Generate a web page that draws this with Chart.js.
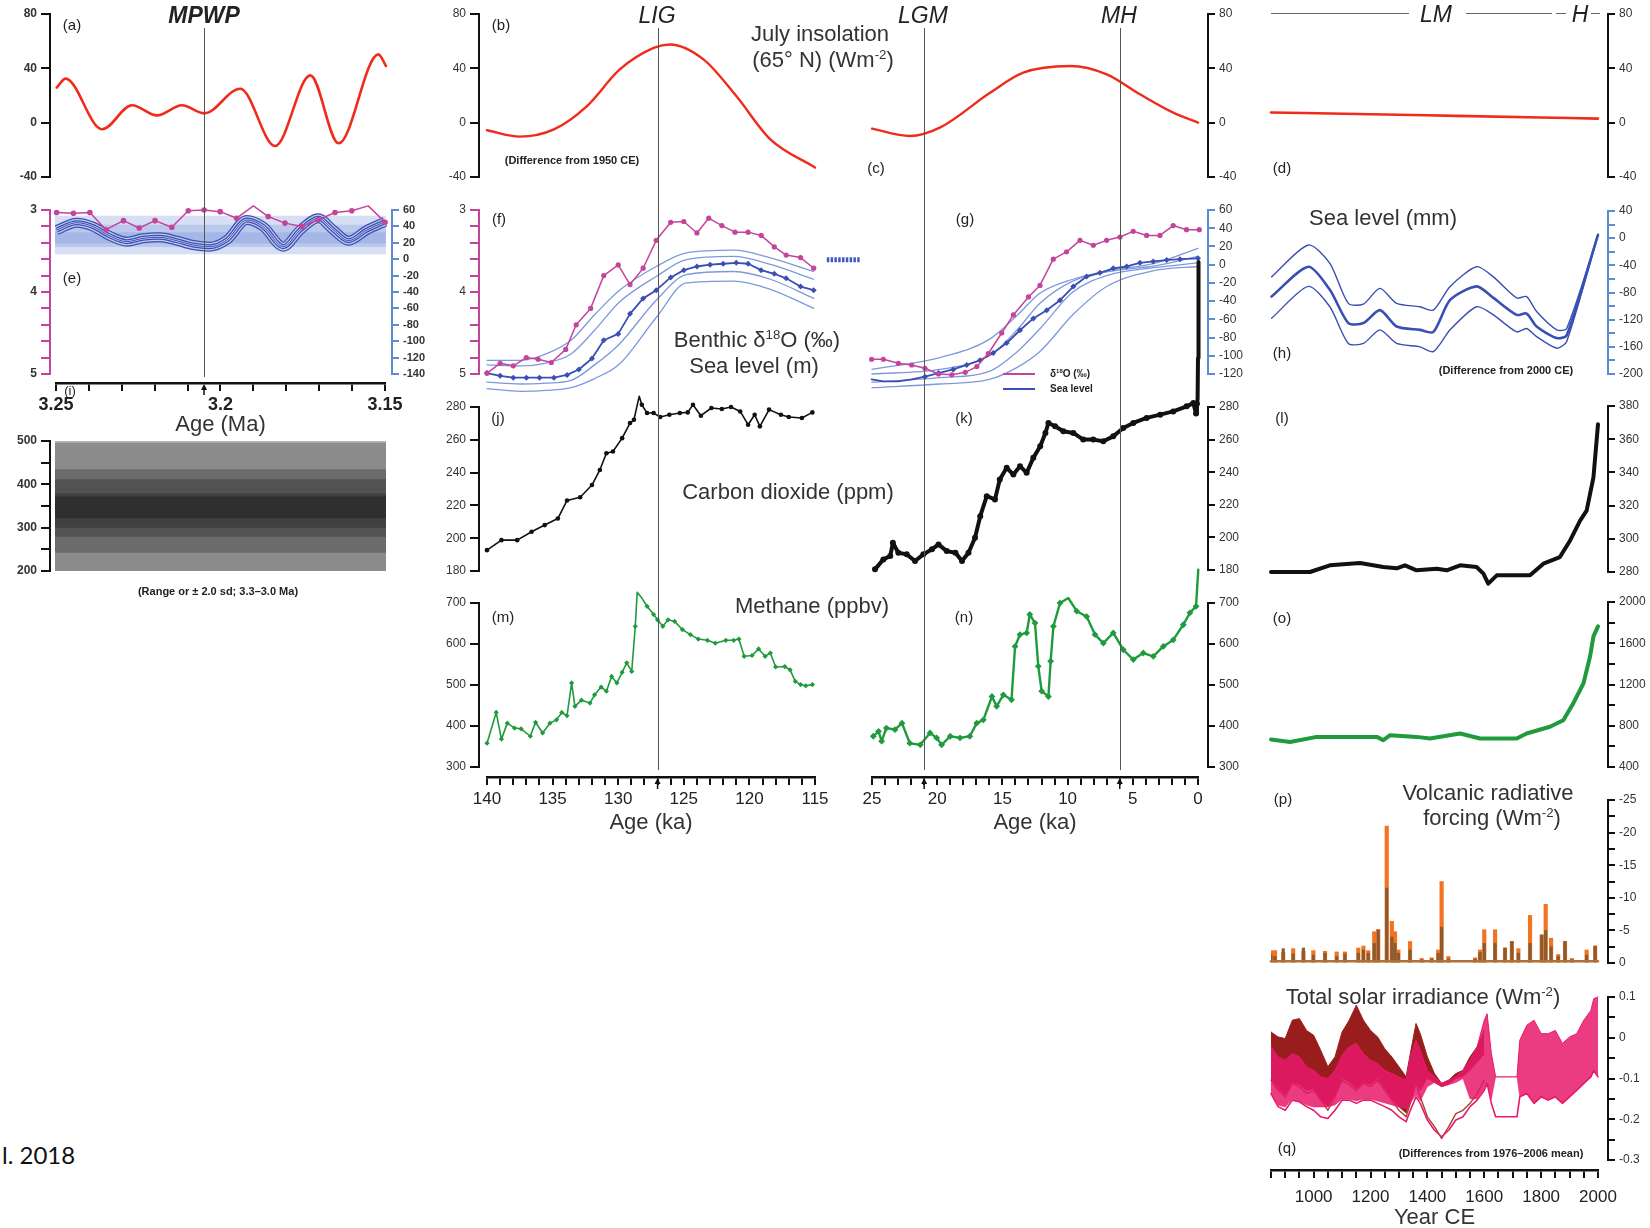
<!DOCTYPE html>
<html>
<head>
<meta charset="utf-8">
<title>Climate forcing time series</title>
<script src="https://cdn.jsdelivr.net/npm/chart.js@4.4.1/dist/chart.umd.min.js"></script>
<style>
  html, body { margin: 0; padding: 0; background: #fff; }
  #stage { position: relative; width: 1650px; height: 1228px; overflow: hidden;
           font-family: "Liberation Sans", Arial, sans-serif; color: #222; }
  #stage canvas { position: absolute; }
  .t { position: absolute; white-space: nowrap; transform: translate(-50%, -50%); line-height: 1; }
  .hdr { font-size: 23px; font-style: italic; color: #222; }
  .sub { font-size: 15px; color: #222; }
  .ttl { font-size: 22px; color: #333; }
  .note { font-size: 11px; font-weight: bold; color: #222; }
  .vline { position: absolute; width: 1px; background: #555; }
  .hline { position: absolute; height: 1px; background: #666; }
  sup { font-size: 0.6em; vertical-align: 0.6em; line-height: 0; }
</style>
</head>
<body>
<div id="stage"></div>
<script>
// ---------- data ----------
// (a) July insolation 65N, mid-Pliocene (Ma, W m-2)
const mpwpAge = [3.2498, 3.2471, 3.236, 3.2269, 3.2193, 3.2117, 3.2049, 3.194, 3.1834, 3.1727, 3.1641, 3.152, 3.1497];
const mpwpInsol = [25.8, 32.4, -4.9, 12.8, 5.4, 12.8, 6.9, 25, -17.2, 34.8, -15.2, 50.3, 41.7];
// (b) LIG insolation (ka)
const ligAge = [140, 137.5, 134.9, 132.4, 129.9, 127.3, 126.05, 123.5, 121, 118.4, 115];
const ligInsol = [-5.6, -10.3, -5, 12, 39, 55, 57.6, 46.6, 19.6, -12.3, -33];
// (c) deglacial insolation (ka)
const lgmAge = [25, 22.1, 19.8, 15.95, 13.4, 9.8, 7.0, 4.45, 1.9, 0];
const lgmInsol = [-4.4, -9.8, -3.7, 22, 36.8, 41.7, 35.6, 20.9, 7.4, 0];
// (d) last millennium insolation (year CE)
const lmYear = [850, 1200, 1500, 1800, 2000];
const lmInsol = [7.5, 6.2, 5, 3.8, 3];

// (e) Pliocene benthic d18O and sea level
const eD18Age = [3.2498, 3.2447, 3.2397, 3.2348, 3.2295, 3.2247, 3.2199, 3.2148, 3.2098, 3.205, 3.2001, 3.1951, 3.19, 3.1855, 3.1804, 3.1753, 3.1703, 3.1652, 3.1601, 3.1551, 3.15];
const eD18 = [3.03, 3.04, 3.03, 3.24, 3.13, 3.22, 3.13, 3.21, 3.01, 3.0, 3.02, 3.10, 2.95, 3.08, 3.16, 3.2, 3.12, 3.03, 3.01, 2.95, 3.15];
const eSeaAge = [3.2498, 3.2437, 3.2387, 3.2336, 3.2285, 3.2235, 3.2184, 3.2133, 3.2083, 3.2032, 3.1981, 3.192, 3.187, 3.1809, 3.1758, 3.1702, 3.1657, 3.1611, 3.1555, 3.15];
const eSea = [35.6, 44.5, 39.7, 28.3, 21.4, 25.5, 26.7, 22.6, 17.3, 15.3, 23.4, 47.8, 39.7, 15.3, 35.6, 49.8, 35.6, 22.6, 35.6, 45.7];
const eBandX = [3.2503, 3.1497];
const eBandLo = [6, 15, 19];
const eBandHi = [53, 42, 33];

// (f) LIG benthic d18O and sea level
const fD18Age = [140, 139, 138, 137, 136.1, 135.1, 134, 133.2, 132.1, 131.1, 130, 129.1, 128.1, 127.1, 126, 125, 124, 123.1, 122.1, 121.1, 120.1, 119.1, 118.1, 117.2, 116.1, 115.1];
const fD18 = [4.99, 4.87, 4.9, 4.8, 4.82, 4.86, 4.7, 4.4, 4.2, 3.8, 3.67, 3.91, 3.71, 3.37, 3.15, 3.14, 3.28, 3.1, 3.19, 3.27, 3.27, 3.31, 3.45, 3.55, 3.58, 3.71];
const fSeaAge = [140, 139, 138, 137, 136, 134.9, 133.9, 133.0, 132.0, 131.1, 130.0, 129.1, 128.1, 127.1, 126.0, 125.0, 124.0, 123.0, 122.0, 121.0, 120.1, 119.1, 118.1, 117.2, 116.1, 115.1];
const fSea = [-119, -122, -124, -124, -124, -124, -121, -115, -103, -83, -76, -54, -37, -28, -14, -6, -2, 0, 1, 2, 1, -6, -10, -15, -24, -28];
const fEnvAge = [140, 137.4, 135.5, 133.6, 131.8, 129.9, 127.1, 124.8, 121.2, 118.4, 115.1];
const fUp2 = [-105, -105, -98, -83, -55, -28, -2, 13, 16, 7.5, -7.5];
const fUp1 = [-110, -111, -108, -98, -72, -41, -13, 5.5, 9, 0.3, -16];
const fLo1 = [-129, -131, -130, -127, -110, -87, -39, -11, -7.5, -16, -37];
const fLo2 = [-136, -139, -138, -135, -125, -109, -58, -20, -18, -27, -48];
const ligSeaAge = [114.1, 111.6];
const ligSeaLevel = [5.5, 5.5];

// (g) deglacial benthic d18O and sea level
const gD18Age = [25.03, 24.13, 22.98, 21.96, 20.94, 19.9, 18.88, 17.85, 16.96, 16.08, 15.05, 14.16, 13.0, 12.12, 11.1, 10.08, 9.05, 8.03, 7.01, 5.99, 4.97, 3.94, 2.92, 1.9, 0.88, -0.1];
const gD18 = [4.82, 4.82, 4.87, 4.89, 4.93, 5.0, 5.01, 4.98, 4.91, 4.75, 4.5, 4.28, 4.06, 3.92, 3.6, 3.51, 3.37, 3.43, 3.37, 3.33, 3.26, 3.31, 3.31, 3.19, 3.24, 3.24];
const gSeaAge = [25.03, 24.13, 22.98, 21.96, 20.94, 19.9, 18.77, 17.74, 16.72, 15.7, 14.67, 13.65, 12.63, 11.6, 10.58, 9.56, 8.54, 7.52, 6.5, 5.47, 4.45, 3.43, 2.4, 1.38, 0];
const gSea = [-126, -128, -128, -126, -123, -119, -115, -110, -105, -97, -86, -72, -59, -50, -39, -24, -13, -9, -4, -2, 2, 3.5, 5, 6, 7];
const gEnvAge = [25, 19.8, 16, 13.9, 12.1, 9.6, 7, 3.2, 0];
const gUp2 = [-115, -102, -82, -56, -31, -16, -7, 2, 18];
const gUp1 = [-120, -115, -100, -72, -42, -18, -8, -1, 9];
const gLo1 = [-129, -124, -117, -96, -70, -30, -12, -3, 2];
const gLo2 = [-135, -131, -126, -113, -95, -55, -24, -6, -2];

// (h) last millennium sea level (mm)
const hYear = [852, 981, 1057, 1122, 1175, 1233, 1292, 1374, 1421, 1480, 1573, 1632, 1714, 1749, 1784, 1855, 1890, 2000];
const hMid = [-86, -42, -76, -125, -125, -106, -130, -135, -138, -91, -71, -88, -113, -111, -130, -147, -143, 5];
const hUp = [-57, -10, -37, -96, -97, -74, -96, -101, -106, -71, -42, -57, -88, -86, -108, -135, -133, 5];
const hLo = [-118, -71, -101, -155, -155, -135, -155, -160, -167, -135, -101, -113, -138, -133, -145, -162, -152, 5];

// (i) Pliocene CO2 range
const iBandX = [3.2503, 3.1497];
const iBandLo = [173, 195, 242, 279, 300, 322];
const iBandHi = [508, 496, 435, 412, 379, 372];

// (j) LIG CO2 (ppm)
const jAge = [140, 138.9, 137.7, 136.6, 135.6, 134.6, 133.9, 132.9, 132, 131.4, 130.9, 130.4, 129.7, 129.1, 128.8, 128.4, 128.2, 127.8, 127.3, 126.8, 126.1, 125.3, 124.7, 124.3, 123.7, 122.9, 122.1, 121.4, 120.7, 120.1, 119.6, 119.2, 118.5, 117.6, 117, 116, 115.2];
const jCO2 = [192.7, 198.8, 198.8, 203.9, 208, 212, 223, 225, 232.4, 241.6, 251.8, 252.9, 261, 270.2, 272.2, 286.5, 281.4, 276.3, 276.3, 273.9, 275.3, 276.3, 276.7, 281.4, 274.7, 279.4, 278.8, 280, 277.3, 269.2, 275.3, 268.2, 278.4, 275.3, 273.9, 273.3, 276.7];
// (k) deglacial CO2 (ppm)
const kAge = [24.77, 24.13, 23.6, 23.4, 22.98, 22.34, 21.7, 21.06, 20.4, 19.9, 19.27, 18.6, 18.1, 17.6, 17.1, 16.7, 16.2, 15.57, 15.2, 14.67, 14.16, 13.65, 13.14, 12.63, 12.1, 11.7, 11.47, 10.96, 10.33, 9.56, 8.8, 8.03, 7.26, 6.5, 5.73, 4.96, 3.94, 2.9, 1.9, 0.87, 0.36, 0.15, 0.08, 0.03, 0, -0.03, -0.05];
const kCO2 = [180.4, 186.5, 188.6, 196.7, 190.6, 189.6, 185.5, 189.6, 192.7, 195.7, 191.6, 190.6, 185.5, 190.6, 199.8, 213, 225.3, 223.3, 235.5, 242.7, 238.6, 243.7, 239.6, 248.8, 255.9, 264.1, 270.2, 268.2, 265.1, 264.1, 260, 260, 259, 262, 267.1, 270.2, 273.3, 275.3, 277.3, 280.4, 282.4, 276, 282, 285, 310, 340, 369];
// (l) last millennium CO2 (ppm)
const lYear = [850, 987, 1057, 1163, 1245, 1292, 1321, 1362, 1433, 1468, 1515, 1573, 1597, 1614, 1644, 1714, 1761, 1808, 1866, 1902, 1937, 1960, 1984, 2000];
const lCO2 = [280, 280, 284, 285.4, 283, 282.2, 284, 281, 282, 281, 284, 283, 279, 273, 278, 278, 278, 285, 289, 299, 311, 317, 337, 369];

// (m) LIG methane (ppbv)
const mAge = [140, 139.3, 138.9, 138.45, 137.9, 137.4, 136.7, 136.3, 135.76, 135.2, 134.7, 134.3, 133.9, 133.55, 133.3, 132.8, 132.15, 131.8, 131.3, 130.9, 130.5, 130.1, 129.7, 129.35, 128.97, 128.7, 128.55, 128.2, 127.8, 127.3, 127.0, 126.6, 126.2, 125.7, 125.1, 124.5, 123.9, 123.2, 122.6, 121.8, 121.2, 120.8, 120.4, 119.8, 119.3, 118.8, 118.4, 118.0, 117.3, 116.9, 116.5, 116.1, 115.7, 115.2];
const mCH4 = [358, 433, 368, 407, 395, 393, 375, 409, 383, 407, 415, 433, 425, 505, 448, 463, 456, 476, 495, 485, 521, 505, 531, 554, 533, 643, 726, 712, 692, 672, 659, 643, 659, 655, 635, 623, 612, 609, 602, 609, 609, 612, 570, 572, 588, 570, 578, 544, 545, 537, 509, 501, 498, 501];
// (n) deglacial methane (ppbv)
const nAge = [24.9, 24.5, 24.26, 23.9, 23.24, 22.7, 22.1, 21.3, 20.55, 20.04, 19.66, 19.0, 18.25, 17.5, 16.97, 16.46, 15.8, 15.44, 14.93, 14.3, 14.03, 13.65, 13.14, 12.9, 12.5, 12.25, 11.99, 11.47, 11.3, 11.09, 10.58, 9.94, 9.3, 8.54, 7.9, 7.26, 6.5, 5.73, 4.96, 4.2, 3.43, 2.66, 1.9, 1.13, 0.62, 0.15, -0.02];
const nCH4 = [375, 387, 363, 395, 391, 407, 358, 354, 383, 371, 354, 375, 371, 375, 407, 415, 472, 448, 476, 464, 594, 623, 627, 672, 651, 546, 485, 472, 558, 643, 700, 712, 680, 667, 623, 602, 627, 586, 562, 578, 570, 594, 610, 647, 676, 692, 781];
// (o) last millennium methane (ppbv)
const oYear = [850, 917, 1011, 1128, 1222, 1245, 1269, 1362, 1409, 1515, 1585, 1714, 1749, 1831, 1878, 1913, 1949, 1972, 1984, 2000];
const oCH4 = [666, 643, 692, 692, 692, 660, 708, 692, 676, 725, 676, 676, 725, 790, 854, 1017, 1212, 1471, 1666, 1764];

// (p) volcanic radiative forcing (W m-2), two reconstructions
const volcYear = [850, 864, 893, 928, 964, 999, 1040, 1081, 1110, 1157, 1175, 1192, 1213, 1227, 1257, 1275, 1286, 1298, 1339, 1380, 1415, 1438, 1450, 1474, 1568, 1585, 1600, 1638, 1673, 1697, 1720, 1761, 1802, 1816, 1835, 1860, 1884, 1908, 1960, 1990];
const volcA = [-1.9, -1.9, -1.6, -2.2, -1.8, -1.9, -1.8, -1.7, -1.7, -2.3, -2.6, -1.9, -4.8, -5.1, -21, -6.4, -4.8, -2, -3.3, -0.7, -0.8, -2, -12.5, -1, -0.8, -2, -5.1, -5.1, -2.3, -3.3, -2.2, -7.3, -4.3, -9, -3.8, -1.3, -3.3, -0.7, -2, -2.6];
const volcB = [-1.2, -1.0, -2.2, -1.4, -2.3, -1.2, -1.5, -1.0, -1.4, -1.5, -2.0, -1.5, -3.0, -5.1, -11.5, -4.0, -3.0, -1.5, -2.0, -0.5, -0.6, -1.5, -5.5, -0.6, -0.6, -1.6, -3.0, -3.0, -2.3, -3.3, -1.5, -3.0, -4.3, -5.0, -2.5, -1.0, -3.3, -0.5, -1.2, -2.6];
const volcBaseYear = [850, 2000];
const volcBase = [-0.25, -0.25];

// (q) total solar irradiance (W m-2): upper edge, bottom of the dense band, lower envelope
const tsiRedYear = [850, 875, 900, 925, 950, 975, 1000, 1025, 1050, 1075, 1100, 1125, 1150, 1175, 1200, 1225, 1250, 1275, 1300, 1325, 1340, 1360, 1375, 1400, 1425, 1450, 1475, 1500, 1525, 1550, 1575, 1600];
const tsiRedHi = [0.014, 0.002, -0.002, 0.043, 0.047, 0.018, 0.006, -0.031, -0.071, -0.047, 0.014, 0.043, 0.080, 0.043, 0.018, 0.002, -0.027, -0.047, -0.071, -0.096, -0.039, 0.035, 0.010, -0.047, -0.088, -0.112, -0.104, -0.088, -0.080, -0.047, -0.022, 0.018];
const tsiRedFill = [-0.1, -0.125, -0.14, -0.11, -0.115, -0.13, -0.125, -0.15, -0.17, -0.14, -0.1, -0.11, -0.125, -0.11, -0.115, -0.1, -0.125, -0.15, -0.17, -0.185, -0.155, -0.11, -0.13, -0.1, -0.11, -0.12, -0.115, -0.1, -0.095, -0.08, -0.06, -0.04];
const tsiRedLo = [-0.104, -0.129, -0.145, -0.112, -0.120, -0.137, -0.129, -0.153, -0.178, -0.145, -0.104, -0.116, -0.129, -0.112, -0.120, -0.104, -0.129, -0.153, -0.178, -0.194, -0.161, -0.112, -0.145, -0.194, -0.218, -0.247, -0.218, -0.186, -0.178, -0.161, -0.137, -0.104];
const tsiPinkYear = [850, 875, 900, 925, 950, 975, 1000, 1025, 1050, 1075, 1100, 1125, 1150, 1175, 1200, 1225, 1250, 1275, 1300, 1325, 1340, 1360, 1375, 1400, 1425, 1450, 1475, 1500, 1525, 1550, 1575, 1600, 1610, 1625, 1640, 1650, 1675, 1700, 1715, 1725, 1750, 1775, 1800, 1825, 1850, 1875, 1900, 1925, 1950, 1975, 1985, 2000];
const tsiPinkHi = [-0.022, -0.047, -0.055, -0.039, -0.047, -0.071, -0.080, -0.096, -0.100, -0.080, -0.043, -0.022, -0.014, -0.039, -0.055, -0.063, -0.080, -0.088, -0.096, -0.104, -0.047, -0.006, -0.031, -0.080, -0.096, -0.112, -0.104, -0.096, -0.080, -0.055, -0.022, 0.043, 0.059, -0.039, -0.096, -0.096, -0.096, -0.096, -0.096, -0.006, 0.031, 0.043, 0.010, 0.010, 0.018, -0.014, 0.002, 0.010, 0.043, 0.067, 0.096, 0.100];
const tsiPinkFill = [-0.135, -0.165, -0.17, -0.15, -0.155, -0.165, -0.17, -0.17, -0.17, -0.165, -0.15, -0.15, -0.155, -0.15, -0.15, -0.155, -0.16, -0.165, -0.17, -0.175, -0.16, -0.14, -0.155, -0.12, -0.11, -0.12, -0.115, -0.11, -0.10, -0.15, -0.15, -0.125, -0.11, -0.15, -0.096, -0.096, -0.096, -0.096, -0.096, -0.145, -0.137, -0.161, -0.145, -0.153, -0.145, -0.161, -0.145, -0.129, -0.112, -0.096, -0.080, -0.096];
const tsiPinkLo = [-0.137, -0.169, -0.178, -0.153, -0.157, -0.169, -0.178, -0.194, -0.198, -0.178, -0.153, -0.153, -0.161, -0.153, -0.153, -0.161, -0.169, -0.178, -0.194, -0.206, -0.178, -0.145, -0.161, -0.202, -0.227, -0.243, -0.227, -0.202, -0.194, -0.169, -0.153, -0.129, -0.112, -0.161, -0.194, -0.194, -0.194, -0.194, -0.194, -0.145, -0.137, -0.161, -0.145, -0.153, -0.145, -0.161, -0.145, -0.129, -0.112, -0.096, -0.080, -0.096];

// ---------- styling ----------
const RED = '#ef2b1c', MAG = '#c4449c', BLUE = '#3a4fb2', LBLUE = '#7d99db', AXBLUE = '#5f8bd3',
      GREEN = '#1f9b3d', ORANGE = '#f47320', BROWN = '#8a5a30', DRED = '#9a1d1d', PINK = '#e8196b';
const iBandColor = ['#b4b4b4', '#8c8c8c', '#6b6b6b', '#525252', '#404040', '#2f2f2f'];

Chart.defaults.font.family = '"Liberation Sans", Arial, sans-serif';
Chart.defaults.color = '#222';

const stage = document.getElementById('stage');

// page position of two known values in each column
const colA = {x0: 56, x1: 385, v0: 3.25, v1: 3.15};
const colB = {x0: 487, x1: 815, v0: 140, v1: 115};
const colC = {x0: 872, x1: 1198, v0: 25, v1: 0};
const colD = {x0: 1271, x1: 1598, v0: 850, v1: 2000};

function xScale(col, L, R) {
  const k = (col.v1 - col.v0) / (col.x1 - col.x0);
  const a = col.v0 + (L - col.x0) * k, b = col.v0 + (R - col.x0) * k;
  return {type: 'linear', display: false, min: Math.min(a, b), max: Math.max(a, b), reverse: a > b, offset: false};
}

function isMult(v, m) { const r = v / m; return Math.abs(r - Math.round(r)) < 1e-6; }
function fmt(v) { return String(Math.round(v * 1000) / 1000); }

const AW = 40;
function yAxis(o) {
  if (o.hidden) return {type: 'linear', display: false, min: o.min, max: o.max, reverse: !!o.reverse};
  const c = o.color || '#111';
  return {
    type: 'linear', position: o.pos, min: o.min, max: o.max, reverse: !!o.reverse,
    border: {display: true, color: c, width: 2},
    grid: {drawOnChartArea: false, drawTicks: true, tickLength: o.tick || 9, color: c, lineWidth: 2},
    ticks: {
      stepSize: o.step, autoSkip: false, padding: 4, color: '#333',
      font: {size: o.fs || 12, weight: o.bold ? 'bold' : 'normal'},
      callback: v => (o.every ? (isMult(v, o.every) ? fmt(v) : '') : fmt(v))
    },
    afterFit: s => { s.width = AW; }
  };
}

function line(xs, ys, o) {
  return Object.assign({
    type: 'line',
    data: xs.map((x, i) => ({x: x, y: ys[i]})),
    borderColor: o.color, backgroundColor: o.color, pointBackgroundColor: o.color,
    borderWidth: o.w || 2, pointRadius: o.r || 0, pointStyle: o.ps || 'circle', pointBorderWidth: 0,
    cubicInterpolationMode: o.smooth ? 'monotone' : 'default', tension: 0,
    borderJoinStyle: 'round', borderCapStyle: 'round',
    clip: false, fill: false, yAxisID: o.axis || 'y', order: o.order || 0
  }, o.more || {});
}

function band(xs, lo, hi, color, axis, order) {
  return {
    type: 'line', data: xs.map(x => ({x: x, y: hi})), borderWidth: 0, pointRadius: 0,
    backgroundColor: color, fill: {value: lo}, clip: false, yAxisID: axis || 'y', order: order
  };
}

function panel(box, scales, datasets, type) {
  const m = Object.assign({l: 60, r: 60, t: 25, b: 25}, box.m || {});
  const cv = document.createElement('canvas');
  cv.width = box.R - box.L + m.l + m.r;
  cv.height = box.B - box.T + m.t + m.b;
  cv.style.left = (box.L - m.l) + 'px';
  cv.style.top = (box.T - m.t) + 'px';
  stage.appendChild(cv);
  let hasL = false, hasR = false;
  Object.values(scales).forEach(s => {
    if (s.display === false) return;
    if (s.position === 'left') hasL = true;
    if (s.position === 'right') hasR = true;
  });
  return new Chart(cv, {
    type: type || 'line',
    data: {datasets: datasets},
    options: {
      responsive: false, animation: false, devicePixelRatio: 1,
      layout: {padding: {left: m.l - (hasL ? AW : 0), right: m.r - (hasR ? AW : 0), top: m.t, bottom: m.b}},
      plugins: {legend: {display: false}, tooltip: {enabled: false}},
      scales: scales
    }
  });
}

const arrowPlugin = {
  id: 'arrows',
  afterDraw(chart, args, opts) {
    const ctx = chart.ctx, y = chart.chartArea.bottom, sx = chart.scales.x;
    (opts.at || []).forEach(v => {
      const x = sx.getPixelForValue(v);
      ctx.save();
      ctx.fillStyle = '#111'; ctx.strokeStyle = '#111'; ctx.lineWidth = 1.5;
      ctx.beginPath(); ctx.moveTo(x, y + 1); ctx.lineTo(x - 3, y + 7); ctx.lineTo(x + 3, y + 7); ctx.closePath(); ctx.fill();
      ctx.beginPath(); ctx.moveTo(x, y + 6); ctx.lineTo(x, y + 12); ctx.stroke();
      ctx.restore();
    });
  }
};

function xAxisChart(col, y, o) {
  const L = col.x0, R = col.x1;
  const cv = document.createElement('canvas');
  cv.width = R - L + 120;
  cv.height = 10 + o.h + 10;
  cv.style.left = (L - 60) + 'px';
  cv.style.top = (y - 10) + 'px';
  stage.appendChild(cv);
  const sx = xScale(col, L, R);
  Object.assign(sx, {
    display: true, position: 'bottom',
    border: {display: true, color: '#111', width: 2.5},
    grid: {drawOnChartArea: false, drawTicks: true, tickLength: o.tick, color: '#111', lineWidth: 2},
    ticks: {stepSize: o.step, autoSkip: false, maxRotation: 0, padding: o.pad, color: '#222',
            font: {size: o.fs, weight: o.bold ? 'bold' : 'normal'},
            callback: v => (isMult(v, o.every) ? o.fmt(v) : '')},
    title: {display: true, text: o.title, color: '#333', font: {size: 22}, padding: {top: 0, bottom: 0}},
    afterFit: s => { s.height = o.h; }
  });
  return new Chart(cv, {
    type: 'line',
    data: {datasets: []},
    options: {
      responsive: false, animation: false, devicePixelRatio: 1,
      layout: {padding: {left: 60, right: 60, top: 5, bottom: 10}},
      plugins: {legend: {display: false}, tooltip: {enabled: false}, arrows: {at: o.at || []}},
      scales: {x: sx, y: {display: false, min: 0, max: 1}}
    },
    plugins: [arrowPlugin]
  });
}

function eventLine(chart, v, top, bottom) {
  const x = parseFloat(chart.canvas.style.left) + chart.scales.x.getPixelForValue(v);
  const d = document.createElement('div');
  d.className = 'vline';
  d.style.left = Math.round(x) + 'px';
  d.style.top = top + 'px';
  d.style.height = (bottom - top) + 'px';
  stage.appendChild(d);
}

function text(html, x, y, cls, css) {
  const d = document.createElement('div');
  d.className = 't ' + (cls || '');
  d.innerHTML = html;
  d.style.left = x + 'px';
  d.style.top = y + 'px';
  if (css) Object.assign(d.style, css);
  stage.appendChild(d);
}
function hline(x0, x1, y) {
  const d = document.createElement('div');
  d.className = 'hline';
  d.style.left = x0 + 'px'; d.style.top = y + 'px'; d.style.width = (x1 - x0) + 'px';
  stage.appendChild(d);
}

// ---------- column A: mid-Pliocene ----------
panel({L: 50, T: 14, R: 392, B: 177},
  {x: xScale(colA, 50, 392), y: yAxis({pos: 'left', min: -40, max: 80, step: 40, bold: true, fs: 12})},
  [line(mpwpAge, mpwpInsol, {color: RED, w: 2.6, smooth: true})]);

const eSets = [];
eBandLo.forEach((lo, i) => eSets.push(band(eBandX, lo, eBandHi[i], 'rgba(110,140,215,0.28)', 'y2', 20 - i)));
// stacked strokes give the bundle of sea-level curves
[[10, BLUE], [7.5, '#c3cbee'], [5, BLUE], [2.5, '#c3cbee'], [1, BLUE]].forEach((s, i) =>
  eSets.push(line(eSeaAge, eSea, {color: s[1], w: s[0], smooth: true, axis: 'y2', order: 9 - i,
    more: {borderCapStyle: 'butt'}})));
eSets.push(line(eD18Age, eD18, {color: MAG, w: 1.5, r: 2.8, order: 1}));
panel({L: 50, T: 210, R: 392, B: 374},
  {x: xScale(colA, 50, 392),
   y: yAxis({pos: 'left', min: 3, max: 5, step: 0.2, every: 1, reverse: true, color: MAG, bold: true, fs: 12}),
   y2: yAxis({pos: 'right', min: -140, max: 60, step: 20, color: AXBLUE, bold: true, fs: 11, tick: 7})},
  eSets);

panel({L: 50, T: 441, R: 386, B: 571},
  {x: xScale(colA, 50, 386), y: yAxis({pos: 'left', min: 200, max: 500, step: 50, every: 100, bold: true, fs: 12})},
  iBandLo.map((lo, i) => band(iBandX, lo, iBandHi[i], iBandColor[i], 'y', 20 - i)));

const axA = xAxisChart(colA, 383, {tick: 8, pad: 3, fs: 18, bold: true, step: 0.01, every: 0.05,
  fmt: v => String(Math.round(v * 100) / 100), title: 'Age (Ma)', h: 55, at: [3.205]});

// ---------- column B: Last Interglacial ----------
panel({L: 479, T: 14, R: 815, B: 177},
  {x: xScale(colB, 479, 815), y: yAxis({pos: 'left', min: -40, max: 80, step: 40})},
  [line(ligAge, ligInsol, {color: RED, w: 2.4, smooth: true})]);

panel({L: 479, T: 210, R: 815, B: 374},
  {x: xScale(colB, 479, 815),
   y: yAxis({pos: 'left', min: 3, max: 5, step: 0.2, every: 1, reverse: true, color: MAG}),
   y2: yAxis({hidden: true, min: -120, max: 60})},
  [
    line(fEnvAge, fUp2, {color: LBLUE, w: 1.3, smooth: true, axis: 'y2', order: 5}),
    line(fEnvAge, fUp1, {color: LBLUE, w: 1.3, smooth: true, axis: 'y2', order: 5}),
    line(fEnvAge, fLo1, {color: LBLUE, w: 1.3, smooth: true, axis: 'y2', order: 5}),
    line(fEnvAge, fLo2, {color: LBLUE, w: 1.3, smooth: true, axis: 'y2', order: 5}),
    line(fSeaAge, fSea, {color: BLUE, w: 1.8, r: 3, ps: 'rectRot', axis: 'y2', order: 3}),
    line(fD18Age, fD18, {color: MAG, w: 1.5, r: 2.6, order: 1}),
    line(ligSeaAge, ligSeaLevel, {color: '#4258c0', w: 5, axis: 'y2', order: 2,
      more: {borderDash: [2.5, 1.3], borderCapStyle: 'butt'}})
  ]);

panel({L: 479, T: 407, R: 815, B: 571, m: {t: 30}},
  {x: xScale(colB, 479, 815), y: yAxis({pos: 'left', min: 180, max: 280, step: 20})},
  [line(jAge, jCO2, {color: '#111', w: 1.6, r: 2.3})]);

panel({L: 479, T: 603, R: 815, B: 767, m: {t: 30}},
  {x: xScale(colB, 479, 815), y: yAxis({pos: 'left', min: 300, max: 700, step: 100})},
  [line(mAge, mCH4, {color: GREEN, w: 1.6, r: 2.6, ps: 'rectRot'})]);

const axB = xAxisChart(colB, 777, {tick: 8, pad: 4, fs: 17, step: 1, every: 5,
  fmt: v => String(Math.round(v)), title: 'Age (ka)', h: 59, at: [127]});

// ---------- column C: deglaciation and Holocene ----------
panel({L: 872, T: 14, R: 1208, B: 177},
  {x: xScale(colC, 872, 1208), y: yAxis({pos: 'right', min: -40, max: 80, step: 40, tick: 7})},
  [line(lgmAge, lgmInsol, {color: RED, w: 2.4, smooth: true})]);

panel({L: 872, T: 210, R: 1208, B: 374},
  {x: xScale(colC, 872, 1208),
   y: yAxis({hidden: true, min: 3, max: 5, reverse: true}),
   y2: yAxis({pos: 'right', min: -120, max: 60, step: 20, color: AXBLUE, tick: 7})},
  [
    line(gEnvAge, gUp2, {color: LBLUE, w: 1.3, smooth: true, axis: 'y2', order: 5}),
    line(gEnvAge, gUp1, {color: LBLUE, w: 1.3, smooth: true, axis: 'y2', order: 5}),
    line(gEnvAge, gLo1, {color: LBLUE, w: 1.3, smooth: true, axis: 'y2', order: 5}),
    line(gEnvAge, gLo2, {color: LBLUE, w: 1.3, smooth: true, axis: 'y2', order: 5}),
    line(gSeaAge, gSea, {color: BLUE, w: 1.8, r: 3, ps: 'rectRot', axis: 'y2', order: 3}),
    line(gD18Age, gD18, {color: MAG, w: 1.5, r: 2.6, order: 1})
  ]);

panel({L: 872, T: 407, R: 1208, B: 570, m: {t: 160}},
  {x: xScale(colC, 872, 1208), y: yAxis({pos: 'right', min: 180, max: 280, step: 20, tick: 7})},
  [line(kAge, kCO2, {color: '#111', w: 4, r: 3})]);

panel({L: 872, T: 603, R: 1208, B: 767, m: {t: 45}},
  {x: xScale(colC, 872, 1208), y: yAxis({pos: 'right', min: 300, max: 700, step: 100, tick: 7})},
  [line(nAge, nCH4, {color: GREEN, w: 2.4, r: 3.4, ps: 'rectRot'})]);

const axC = xAxisChart(colC, 777, {tick: 8, pad: 4, fs: 17, step: 1, every: 5,
  fmt: v => String(Math.round(v)), title: 'Age (ka)', h: 59, at: [21, 6]});

// ---------- column D: last millennium ----------
panel({L: 1271, T: 14, R: 1608, B: 177},
  {x: xScale(colD, 1271, 1608), y: yAxis({pos: 'right', min: -40, max: 80, step: 40, tick: 7})},
  [line(lmYear, lmInsol, {color: RED, w: 2.6, smooth: true})]);

panel({L: 1271, T: 211, R: 1608, B: 374},
  {x: xScale(colD, 1271, 1608), y: yAxis({pos: 'right', min: -200, max: 40, step: 20, every: 40, color: AXBLUE, tick: 7})},
  [
    line(hYear, hUp, {color: BLUE, w: 1.4, more: {tension: 0.25}}),
    line(hYear, hLo, {color: BLUE, w: 1.4, more: {tension: 0.25}}),
    line(hYear, hMid, {color: BLUE, w: 2.6, more: {tension: 0.25}})
  ]);

panel({L: 1271, T: 406, R: 1608, B: 572},
  {x: xScale(colD, 1271, 1608), y: yAxis({pos: 'right', min: 280, max: 380, step: 20, tick: 7})},
  [line(lYear, lCO2, {color: '#111', w: 4})]);

panel({L: 1271, T: 602, R: 1608, B: 767},
  {x: xScale(colD, 1271, 1608), y: yAxis({pos: 'right', min: 400, max: 2000, step: 200, every: 400, tick: 7})},
  [line(oYear, oCH4, {color: GREEN, w: 4})]);

panel({L: 1271, T: 800, R: 1608, B: 963},
  {x: xScale(colD, 1271, 1608), y: yAxis({pos: 'right', min: -25, max: 0, step: 2.5, every: 5, reverse: true, tick: 7})},
  [
    {type: 'bar', data: volcYear.map((x, i) => ({x: x, y: volcA[i]})), backgroundColor: ORANGE,
     barThickness: 3.5, grouped: false, order: 3},
    {type: 'bar', data: volcYear.map((x, i) => ({x: x, y: volcB[i]})), backgroundColor: BROWN,
     barThickness: 2.5, grouped: false, order: 2},
    line(volcBaseYear, volcBase, {color: '#b0703a', w: 2.5, order: 1})
  ], 'bar');

panel({L: 1271, T: 997, R: 1608, B: 1160},
  {x: xScale(colD, 1271, 1608), y: yAxis({pos: 'right', min: -0.3, max: 0.1, step: 0.05, every: 0.1, tick: 7})},
  [
    line(tsiRedYear, tsiRedHi, {color: DRED, w: 1, order: 4, more: {fill: '+1', backgroundColor: DRED}}),
    line(tsiRedYear, tsiRedFill, {color: DRED, w: 0.5, order: 4}),
    line(tsiRedYear, tsiRedLo, {color: '#a4442a', w: 1.4, order: 4}),
    line(tsiPinkYear, tsiPinkHi, {color: PINK, w: 1, order: 2, more: {fill: '+1', backgroundColor: 'rgba(232,25,107,0.85)'}}),
    line(tsiPinkYear, tsiPinkFill, {color: PINK, w: 0.5, order: 2}),
    line(tsiPinkYear, tsiPinkLo, {color: PINK, w: 1.6, order: 2})
  ]);

const axD = xAxisChart(colD, 1170, {tick: 8, pad: 9, fs: 17, step: 50, every: 200,
  fmt: v => String(Math.round(v)), title: 'Year CE', h: 61});

// ---------- event lines ----------
eventLine(axA, 3.205, 28, 377);
eventLine(axB, 127, 28, 770);
eventLine(axC, 21, 28, 770);
eventLine(axC, 6, 28, 770);

// ---------- text ----------
text('<b>MPWP</b>', 204, 15, 'hdr');
text('LIG', 657, 15, 'hdr');
text('LGM', 923, 15, 'hdr');
text('MH', 1119, 15, 'hdr');
text('LM', 1436, 14, 'hdr');
text('H', 1580, 14, 'hdr');
hline(1271, 1409, 13); hline(1466, 1552, 13); hline(1556, 1566, 13); hline(1591, 1600, 13);

[['(a)', 72, 24], ['(e)', 72, 277], ['(b)', 501, 24], ['(f)', 499, 218], ['(j)', 498, 417], ['(m)', 503, 616],
 ['(c)', 876, 167], ['(g)', 965, 218], ['(k)', 964, 417], ['(n)', 964, 616],
 ['(d)', 1282, 167], ['(h)', 1282, 352], ['(l)', 1282, 417], ['(o)', 1282, 617], ['(p)', 1283, 798], ['(q)', 1287, 1147]]
  .forEach(s => text(s[0], s[1], s[2], 'sub'));
text('(i)', 70, 390, 'sub', {fontSize: '13px'});

text('July insolation', 820, 34, 'ttl');
text('(65° N) (Wm<sup>-2</sup>)', 823, 60, 'ttl');
text('Benthic δ<sup>18</sup>O (‰)', 757, 340, 'ttl');
text('Sea level (m)', 754, 366, 'ttl');
text('Carbon dioxide (ppm)', 788, 492, 'ttl');
text('Methane (ppbv)', 812, 606, 'ttl');
text('Sea level (mm)', 1383, 218, 'ttl');
text('Volcanic radiative', 1488, 793, 'ttl');
text('forcing (Wm<sup>-2</sup>)', 1492, 818, 'ttl');
text('Total solar irradiance (Wm<sup>-2</sup>)', 1423, 997, 'ttl');

text('(Difference from 1950 CE)', 572, 160, 'note');
text('(Difference from 2000 CE)', 1506, 370, 'note');
text('(Range or ± 2.0 sd; 3.3–3.0 Ma)', 218, 591, 'note');
text('(Differences from 1976–2006 mean)', 1491, 1153, 'note');

// legend for (g)
const legend = [[MAG, 'δ<sup>18</sup>O (‰)', 374], [BLUE, 'Sea level', 389]];
legend.forEach(l => {
  const d = document.createElement('div');
  Object.assign(d.style, {position: 'absolute', left: '1003px', top: (l[2] - 1) + 'px', width: '32px', height: '2px', background: l[0]});
  stage.appendChild(d);
  text(l[1], 1050, l[2], 'note', {transform: 'translate(0,-50%)', fontSize: '10px'});
});

text('l. 2018', 2, 1155, '', {transform: 'translate(0,-50%)', fontFamily: 'Lato, sans-serif', fontSize: '24px', color: '#111'});
</script>
</body>
</html>
